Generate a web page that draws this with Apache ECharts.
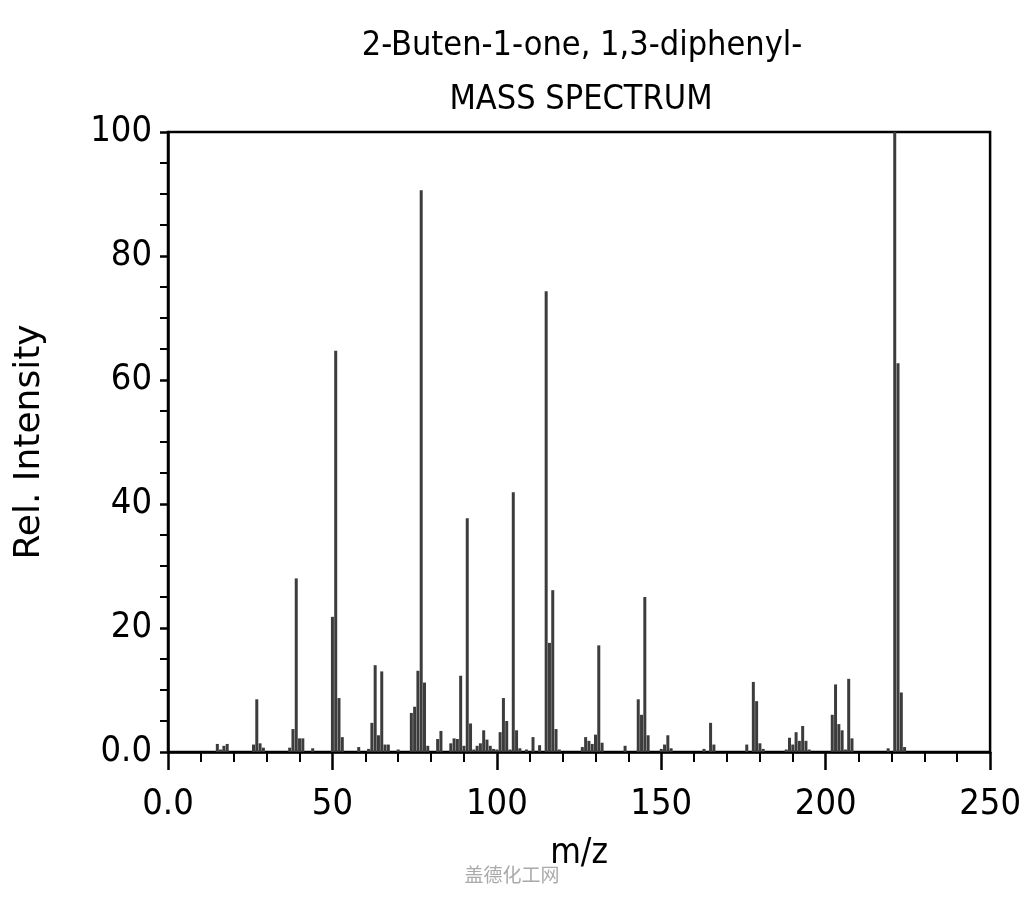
<!DOCTYPE html>
<html>
<head>
<meta charset="utf-8">
<script src="https://cdn.jsdelivr.net/npm/echarts@6/dist/echarts.min.js"></script>
<style>
html,body{margin:0;padding:0;background:#fff;}
#chart{width:1024px;height:900px;}
</style>
</head>
<body>
<div id="chart"></div>
<script>
const titleLine1 = "2-Buten-1-one, 1,3-diphenyl-";
const titleLine2 = "MASS SPECTRUM";
const xAxisName = "m/z";
const yAxisName = "Rel. Intensity";
const watermark = "盖德化工网";

const mz = [15,16,17,18,26,27,28,29,37,38,39,40,41,44,50,51,52,53,58,61,62,63,64,65,66,67,70,
  74,75,76,77,78,79,82,83,86,87,88,89,90,91,92,93,94,95,96,97,98,99,100,101,102,103,104,105,106,107,109,111,113,
  115,116,117,118,119,126,127,128,129,130,131,132,139,143,144,145,146,150,151,152,153,
  163,165,166,176,178,179,180,181,188,189,190,191,192,193,194,195,
  202,203,204,205,206,207,208,219,221,222,223,224];
const intensity = [1.3,0.4,1.0,1.3,1.2,8.5,1.4,0.7,0.7,3.7,28.0,2.2,2.2,0.6,21.8,64.7,8.7,2.4,0.8,0.5,4.7,14.0,2.7,13.0,1.2,1.2,0.4,
  6.3,7.3,13.1,90.6,11.2,1.0,2.1,3.4,1.4,2.2,2.1,12.3,1.0,37.7,4.6,0.4,1.0,1.4,3.5,2.0,1.0,0.5,0.4,3.2,8.7,5.0,0.4,41.9,3.5,0.6,0.4,2.4,1.1,
  74.3,17.6,26.1,3.7,0.4,0.8,2.4,1.8,1.3,2.8,17.2,1.5,1.0,8.5,6.0,25.0,2.7,0.5,1.2,2.7,0.6,
  0.5,4.7,1.2,1.2,11.3,8.2,1.4,0.5,0.4,2.3,1.2,3.2,1.8,4.2,1.8,0.4,
  6.0,10.9,4.5,3.5,0.4,11.8,2.2,0.6,100,62.7,9.6,0.8];

const xTicks = [0,50,100,150,200,250];
const yTicks = [0,20,40,60,80,100];

const FONT = "'DejaVu Sans Condensed', 'DejaVu Sans', sans-serif";
const fmt = v => (v === 0 ? "0.0" : String(v));

const chart = echarts.init(document.getElementById('chart'), null, {renderer:'canvas'});
chart.setOption({
  animation:false,
  backgroundColor:'#fff',
  graphic:[
    {type:'text', x:582, y:46, style:{text:titleLine1, fill:'#000', align:'center', verticalAlign:'middle', font:"34px 'DejaVu Sans Condensed', 'DejaVu Sans'"}},
    {type:'text', x:581, y:100, style:{text:titleLine2, fill:'#000', align:'center', verticalAlign:'middle', font:"34px 'DejaVu Sans Condensed', 'DejaVu Sans'"}},
    {type:'text', x:512, y:875, style:{text:watermark, fill:'#aaaaaa', align:'center', verticalAlign:'middle', font:"19px 'Noto Sans CJK SC', serif"}}
  ],
  grid:{left:168, right:26, top:132, bottom:148, show:true, borderColor:'#000', borderWidth:2.5, backgroundColor:'transparent'},
  xAxis:{
    type:'value', min:xTicks[0], max:xTicks[xTicks.length-1], interval:50,
    name:xAxisName, nameLocation:'middle', nameGap:84,
    nameTextStyle:{fontFamily:FONT, fontSize:35, color:'#000'},
    axisLine:{show:true, onZero:false, lineStyle:{color:'#000', width:2.5}},
    axisTick:{show:true, length:18, lineStyle:{color:'#000', width:2.5}},
    minorTick:{show:true, splitNumber:5, length:10, lineStyle:{color:'#000', width:2}},
    axisLabel:{formatter:fmt, margin:35, fontFamily:FONT, fontSize:36, color:'#000'},
    splitLine:{show:false}
  },
  yAxis:{
    type:'value', min:yTicks[0], max:yTicks[yTicks.length-1], interval:20,
    name:yAxisName, nameLocation:'middle', nameGap:120,
    nameTextStyle:{fontFamily:"'DejaVu Sans', sans-serif", fontSize:36, color:'#000'},
    axisLine:{show:true, lineStyle:{color:'#000', width:2.5}},
    axisTick:{show:true, length:8, lineStyle:{color:'#000', width:2.5}},
    minorTick:{show:true, splitNumber:4, length:8, lineStyle:{color:'#000', width:2}},
    axisLabel:{formatter:fmt, margin:16, fontFamily:FONT, fontSize:36, color:'#000'},
    splitLine:{show:false}
  },
  series:[{
    type:'bar',
    data: mz.map((m,i)=>[m, intensity[i]]),
    barWidth:3,
    itemStyle:{color:'#3c3c3c'},
    silent:true
  }]
});
</script>
</body>
</html>
